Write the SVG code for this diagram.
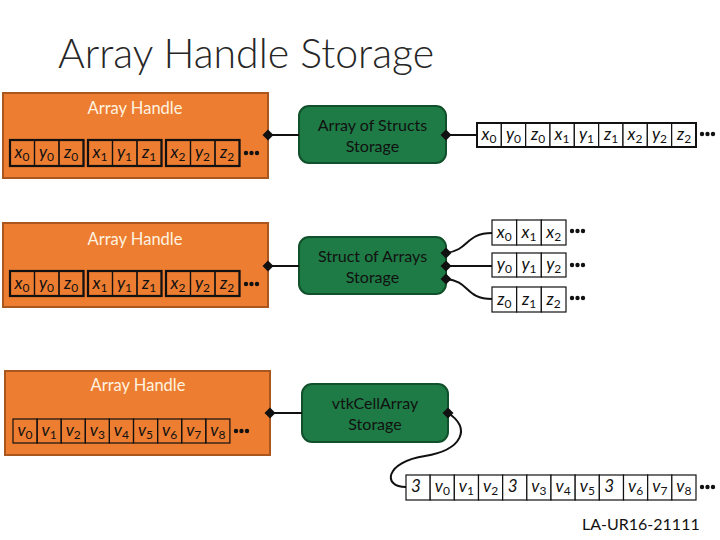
<svg xmlns="http://www.w3.org/2000/svg" xmlns:xlink="http://www.w3.org/1999/xlink" width="720" height="540" viewBox="0 0 720 540">
<style>
.title{font-family:Lato,"Open Sans","Liberation Sans",sans-serif;font-size:41px;font-weight:300;fill:#262626}
.ah{fill:#ED7D31;stroke:#A9561F;stroke-width:2}
.ahl{font-family:Lato,"Open Sans","Liberation Sans",sans-serif;font-size:16.5px;fill:#FFF3E0;text-anchor:middle}
.st{fill:#1E7B45;stroke:#10502B;stroke-width:2}
.stl{font-family:Lato,"Open Sans","Liberation Sans",sans-serif;font-size:16px;fill:#111;text-anchor:middle}
.c{fill:none;stroke:#111;stroke-width:1.2}
.g{fill:none;stroke:#111;stroke-width:2.2}
.cw{fill:#fff;stroke:#111;stroke-width:1.2}
.gw{fill:none;stroke:#111;stroke-width:2}
.v{font-family:Lato,"Open Sans","Liberation Sans",sans-serif;font-size:17px;font-style:italic;fill:#111;text-anchor:middle}
.s{font-size:12px;font-style:normal}
.ln{fill:none;stroke:#111;stroke-width:2}
.note{font-family:Lato,"Open Sans","Liberation Sans",sans-serif;font-size:16px;fill:#111}
</style>
<defs>
<path id="dia" d="M-5.5,0 L0,-5.5 L5.5,0 L0,5.5 Z" fill="#111"/>
<g id="dots" fill="#111"><circle cx="0" cy="0" r="2.2"/><circle cx="5.5" cy="0" r="2.2"/><circle cx="11" cy="0" r="2.2"/></g>
</defs>

<text class="title" x="58" y="68">Array Handle Storage</text>

<!-- Array Handle 1 (AoS) -->
<g id="handle1">
<rect class="ah" x="3" y="93" width="265" height="85"/>
<text class="ahl" x="135" y="114">Array Handle</text>
<g>
<rect class="c" x="10" y="140" width="24.5" height="26"/><rect class="c" x="34.5" y="140" width="24.5" height="26"/><rect class="c" x="59" y="140" width="24.5" height="26"/>
<rect class="g" x="10" y="140" width="73.5" height="26"/>
<rect class="c" x="88" y="140" width="24.5" height="26"/><rect class="c" x="112.5" y="140" width="24.5" height="26"/><rect class="c" x="137" y="140" width="24.5" height="26"/>
<rect class="g" x="88" y="140" width="73.5" height="26"/>
<rect class="c" x="166" y="140" width="24.5" height="26"/><rect class="c" x="190.5" y="140" width="24.5" height="26"/><rect class="c" x="215" y="140" width="24.5" height="26"/>
<rect class="g" x="166" y="140" width="73.5" height="26"/>
<text class="v" x="22" y="158">x<tspan class="s" dy="3">0</tspan></text>
<text class="v" x="46.5" y="158">y<tspan class="s" dy="3">0</tspan></text>
<text class="v" x="71" y="158">z<tspan class="s" dy="3">0</tspan></text>
<text class="v" x="100" y="158">x<tspan class="s" dy="3">1</tspan></text>
<text class="v" x="124.5" y="158">y<tspan class="s" dy="3">1</tspan></text>
<text class="v" x="149" y="158">z<tspan class="s" dy="3">1</tspan></text>
<text class="v" x="178" y="158">x<tspan class="s" dy="3">2</tspan></text>
<text class="v" x="202.5" y="158">y<tspan class="s" dy="3">2</tspan></text>
<text class="v" x="227" y="158">z<tspan class="s" dy="3">2</tspan></text>
<use xlink:href="#dots" x="246" y="153"/>
</g>
</g>

<!-- Array Handle 2 (SoA) -->
<g id="handle2">
<rect class="ah" x="3" y="223" width="265" height="84"/>
<text class="ahl" x="135" y="245">Array Handle</text>
<rect class="c" x="10" y="271" width="24.5" height="25"/><rect class="c" x="34.5" y="271" width="24.5" height="25"/><rect class="c" x="59" y="271" width="24.5" height="25"/>
<rect class="g" x="10" y="271" width="73.5" height="25"/>
<rect class="c" x="88" y="271" width="24.5" height="25"/><rect class="c" x="112.5" y="271" width="24.5" height="25"/><rect class="c" x="137" y="271" width="24.5" height="25"/>
<rect class="g" x="88" y="271" width="73.5" height="25"/>
<rect class="c" x="166" y="271" width="24.5" height="25"/><rect class="c" x="190.5" y="271" width="24.5" height="25"/><rect class="c" x="215" y="271" width="24.5" height="25"/>
<rect class="g" x="166" y="271" width="73.5" height="25"/>
<text class="v" x="22" y="289">x<tspan class="s" dy="3">0</tspan></text>
<text class="v" x="46.5" y="289">y<tspan class="s" dy="3">0</tspan></text>
<text class="v" x="71" y="289">z<tspan class="s" dy="3">0</tspan></text>
<text class="v" x="100" y="289">x<tspan class="s" dy="3">1</tspan></text>
<text class="v" x="124.5" y="289">y<tspan class="s" dy="3">1</tspan></text>
<text class="v" x="149" y="289">z<tspan class="s" dy="3">1</tspan></text>
<text class="v" x="178" y="289">x<tspan class="s" dy="3">2</tspan></text>
<text class="v" x="202.5" y="289">y<tspan class="s" dy="3">2</tspan></text>
<text class="v" x="227" y="289">z<tspan class="s" dy="3">2</tspan></text>
<use xlink:href="#dots" x="246" y="284"/>
</g>

<!-- Array Handle 3 (cells) -->
<g id="handle3">
<rect class="ah" x="5" y="371" width="265" height="84"/>
<text class="ahl" x="138" y="391">Array Handle</text>
<rect class="c" x="13" y="419" width="24.1" height="24"/><rect class="c" x="37.1" y="419" width="24.1" height="24"/><rect class="c" x="61.2" y="419" width="24.1" height="24"/>
<rect class="c" x="85.3" y="419" width="24.1" height="24"/><rect class="c" x="109.4" y="419" width="24.1" height="24"/><rect class="c" x="133.5" y="419" width="24.1" height="24"/>
<rect class="c" x="157.6" y="419" width="24.1" height="24"/><rect class="c" x="181.7" y="419" width="24.1" height="24"/><rect class="c" x="205.8" y="419" width="24.1" height="24"/>
<text class="v" x="25" y="436">v<tspan class="s" dy="3">0</tspan></text>
<text class="v" x="49.1" y="436">v<tspan class="s" dy="3">1</tspan></text>
<text class="v" x="73.2" y="436">v<tspan class="s" dy="3">2</tspan></text>
<text class="v" x="97.3" y="436">v<tspan class="s" dy="3">3</tspan></text>
<text class="v" x="121.4" y="436">v<tspan class="s" dy="3">4</tspan></text>
<text class="v" x="145.5" y="436">v<tspan class="s" dy="3">5</tspan></text>
<text class="v" x="169.6" y="436">v<tspan class="s" dy="3">6</tspan></text>
<text class="v" x="193.7" y="436">v<tspan class="s" dy="3">7</tspan></text>
<text class="v" x="217.8" y="436">v<tspan class="s" dy="3">8</tspan></text>
<use xlink:href="#dots" x="236" y="431"/>
</g>

<!-- Storage nodes -->
<g id="aos">
<rect class="st" x="299" y="106" width="147" height="57" rx="10"/>
<text class="stl" x="372.5" y="131">Array of Structs</text>
<text class="stl" x="372.5" y="152">Storage</text>
</g>
<g id="soa">
<rect class="st" x="299" y="237" width="147" height="57" rx="10"/>
<text class="stl" x="372.5" y="262">Struct of Arrays</text>
<text class="stl" x="372.5" y="283">Storage</text>
</g>
<g id="vtk">
<rect class="st" x="302" y="384" width="146" height="58" rx="10"/>
<text class="stl" x="375" y="409">vtkCellArray</text>
<text class="stl" x="375" y="430">Storage</text>
</g>

<!-- AoS memory -->
<g id="aosmem">
<rect class="cw" x="477" y="123" width="24.33" height="24"/><rect class="cw" x="501.33" y="123" width="24.33" height="24"/><rect class="cw" x="525.67" y="123" width="24.33" height="24"/>
<rect class="cw" x="550" y="123" width="24.33" height="24"/><rect class="cw" x="574.33" y="123" width="24.33" height="24"/><rect class="cw" x="598.67" y="123" width="24.33" height="24"/>
<rect class="cw" x="623" y="123" width="24.33" height="24"/><rect class="cw" x="647.33" y="123" width="24.33" height="24"/><rect class="cw" x="671.67" y="123" width="24.33" height="24"/>
<rect class="gw" x="477" y="123" width="219" height="24"/>
<text class="v" x="489" y="140">x<tspan class="s" dy="3">0</tspan></text>
<text class="v" x="513.5" y="140">y<tspan class="s" dy="3">0</tspan></text>
<text class="v" x="538" y="140">z<tspan class="s" dy="3">0</tspan></text>
<text class="v" x="562" y="140">x<tspan class="s" dy="3">1</tspan></text>
<text class="v" x="586.5" y="140">y<tspan class="s" dy="3">1</tspan></text>
<text class="v" x="611" y="140">z<tspan class="s" dy="3">1</tspan></text>
<text class="v" x="635" y="140">x<tspan class="s" dy="3">2</tspan></text>
<text class="v" x="659.5" y="140">y<tspan class="s" dy="3">2</tspan></text>
<text class="v" x="684" y="140">z<tspan class="s" dy="3">2</tspan></text>
<use xlink:href="#dots" x="702" y="134"/>
</g>

<!-- SoA memory -->
<g id="soamem">
<rect class="cw" x="492" y="220" width="24.67" height="25"/><rect class="cw" x="516.67" y="220" width="24.67" height="25"/><rect class="cw" x="541.33" y="220" width="24.67" height="25"/>
<rect class="cw" x="492" y="253" width="24.67" height="24"/><rect class="cw" x="516.67" y="253" width="24.67" height="24"/><rect class="cw" x="541.33" y="253" width="24.67" height="24"/>
<rect class="cw" x="492" y="287" width="24.67" height="25"/><rect class="cw" x="516.67" y="287" width="24.67" height="25"/><rect class="cw" x="541.33" y="287" width="24.67" height="25"/>
<text class="v" x="504.3" y="238">x<tspan class="s" dy="3">0</tspan></text>
<text class="v" x="529" y="238">x<tspan class="s" dy="3">1</tspan></text>
<text class="v" x="553.7" y="238">x<tspan class="s" dy="3">2</tspan></text>
<text class="v" x="504.3" y="270">y<tspan class="s" dy="3">0</tspan></text>
<text class="v" x="529" y="270">y<tspan class="s" dy="3">1</tspan></text>
<text class="v" x="553.7" y="270">y<tspan class="s" dy="3">2</tspan></text>
<text class="v" x="504.3" y="305">z<tspan class="s" dy="3">0</tspan></text>
<text class="v" x="529" y="305">z<tspan class="s" dy="3">1</tspan></text>
<text class="v" x="553.7" y="305">z<tspan class="s" dy="3">2</tspan></text>
<use xlink:href="#dots" x="572" y="231"/>
<use xlink:href="#dots" x="572" y="265"/>
<use xlink:href="#dots" x="572" y="298"/>
</g>

<!-- Cell array memory -->
<g id="cellmem">
<rect class="cw" x="406" y="475" width="24.17" height="25"/><rect class="cw" x="430.17" y="475" width="24.17" height="25"/><rect class="cw" x="454.33" y="475" width="24.17" height="25"/>
<rect class="cw" x="478.5" y="475" width="24.17" height="25"/><rect class="cw" x="502.67" y="475" width="24.17" height="25"/><rect class="cw" x="526.83" y="475" width="24.17" height="25"/>
<rect class="cw" x="551" y="475" width="24.17" height="25"/><rect class="cw" x="575.17" y="475" width="24.17" height="25"/><rect class="cw" x="599.33" y="475" width="24.17" height="25"/>
<rect class="cw" x="623.5" y="475" width="24.17" height="25"/><rect class="cw" x="647.67" y="475" width="24.17" height="25"/><rect class="cw" x="671.83" y="475" width="24.17" height="25"/>
<text class="v" x="416" y="492">3</text>
<text class="v" x="442.3" y="492">v<tspan class="s" dy="3">0</tspan></text>
<text class="v" x="466.4" y="492">v<tspan class="s" dy="3">1</tspan></text>
<text class="v" x="490.6" y="492">v<tspan class="s" dy="3">2</tspan></text>
<text class="v" x="512.7" y="492">3</text>
<text class="v" x="538.9" y="492">v<tspan class="s" dy="3">3</tspan></text>
<text class="v" x="563.1" y="492">v<tspan class="s" dy="3">4</tspan></text>
<text class="v" x="587.3" y="492">v<tspan class="s" dy="3">5</tspan></text>
<text class="v" x="609.3" y="492">3</text>
<text class="v" x="635.6" y="492">v<tspan class="s" dy="3">6</tspan></text>
<text class="v" x="659.8" y="492">v<tspan class="s" dy="3">7</tspan></text>
<text class="v" x="683.9" y="492">v<tspan class="s" dy="3">8</tspan></text>
<use xlink:href="#dots" x="702" y="487"/>
</g>

<!-- Connectors -->
<g id="connectors">
<path class="ln" d="M268,135 L299,135"/>
<path class="ln" d="M268,266 L299,266"/>
<path class="ln" d="M270,413 L302,413"/>
<path class="ln" d="M446,135 L477,135"/>
<path class="ln" d="M446,253 C470,250 465,233 492,233"/>
<path class="ln" d="M446,266 L492,266"/>
<path class="ln" d="M446,279 C470,281 465,299 492,299"/>
<path class="ln" d="M448,413 C472,428 462,450 425,456 C385,462 382,487 406,487"/>
<use xlink:href="#dia" x="268" y="135"/>
<use xlink:href="#dia" x="268" y="266"/>
<use xlink:href="#dia" x="270" y="413"/>
<use xlink:href="#dia" x="446" y="135"/>
<use xlink:href="#dia" x="446" y="253"/>
<use xlink:href="#dia" x="446" y="266"/>
<use xlink:href="#dia" x="446" y="279"/>
<use xlink:href="#dia" x="448" y="413"/>
</g>

<text class="note" x="582" y="530">LA-UR16-21111</text>
</svg>
